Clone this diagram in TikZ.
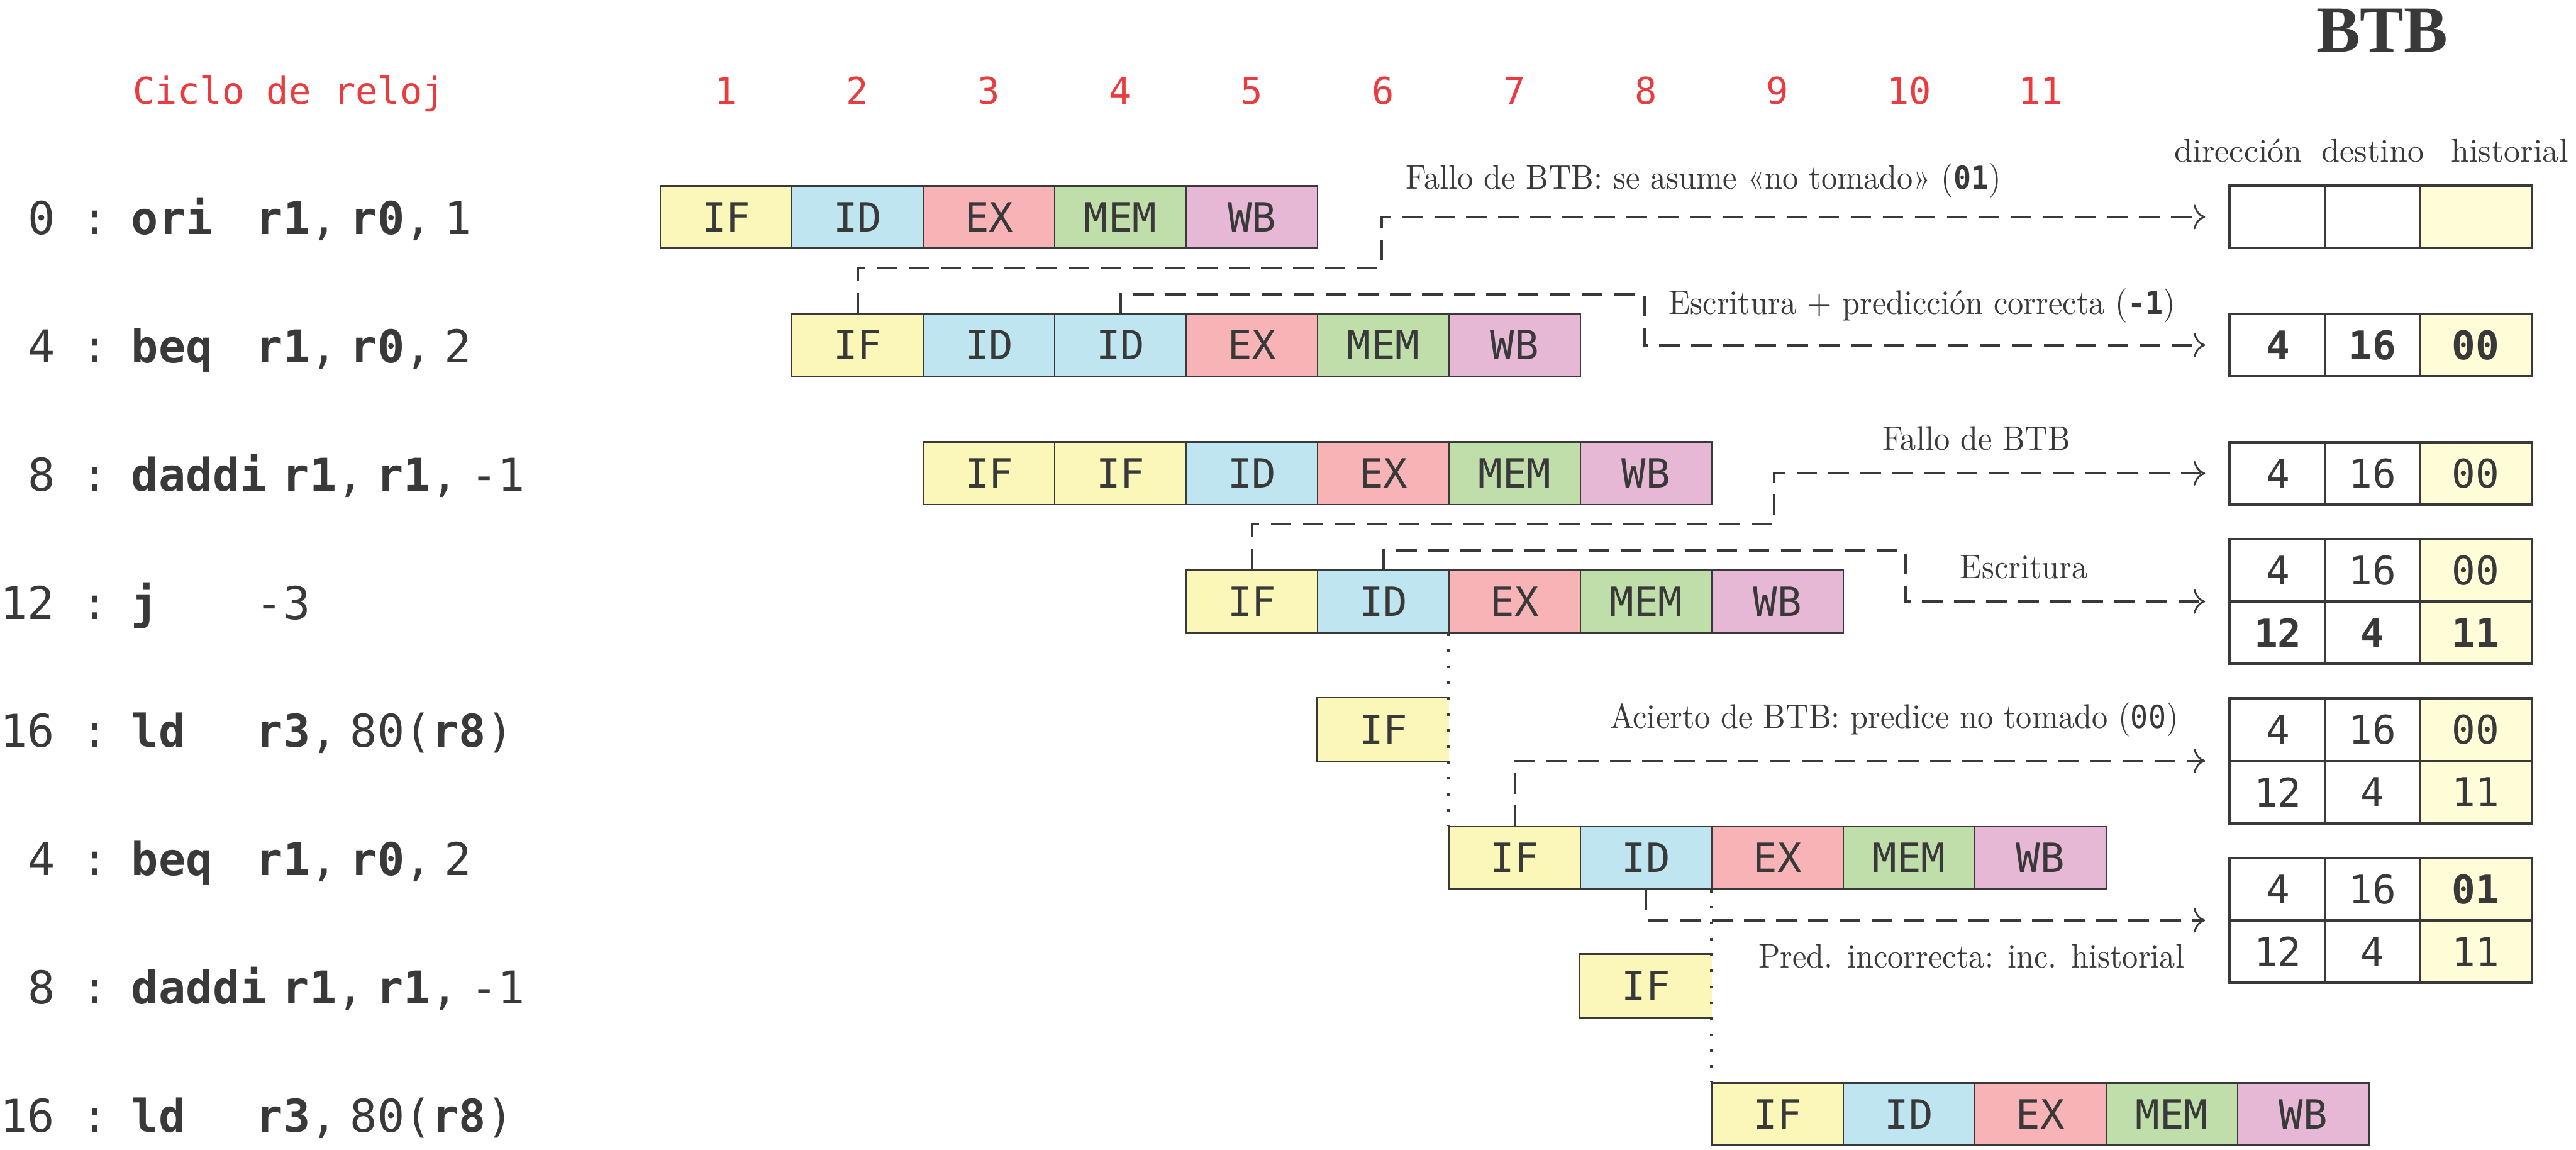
\documentclass[tikz,border=0pt]{standalone}
\usepackage{graphicx}
\usepackage{fontspec}
\setmonofont{DejaVu Sans Mono}
\newfontfamily\btbfont{Liberation Serif}
\usetikzlibrary{arrows.meta}
\definecolor{ink}{HTML}{393939}
\definecolor{redc}{HTML}{EB3B3F}
\definecolor{cIF}{HTML}{FAF7B9}
\definecolor{cID}{HTML}{BFE6F0}
\definecolor{cEX}{HTML}{F7B3B5}
\definecolor{cMEM}{HTML}{BFDEAA}
\definecolor{cWB}{HTML}{E6B8D5}
\definecolor{cHist}{HTML}{FFFCD8}
\newcommand\stg[5]{\node[stgbox,fill=#5] (#1) at (#2,#3) {#4};}
\newcommand\opsp{\hspace{7.7pt}}
\newcommand\rmbig[1]{\scalebox{2}{\fontsize{10}{12}\selectfont #1}}
\newcommand\rmlbl[1]{\scalebox{1.93}[2.08]{\fontsize{10}{12}\selectfont #1}}
\newcommand\monosm[1]{{\fontsize{9.25}{10}\selectfont\ttfamily #1}}
\newcommand\asmline[5]{% y-center, number, mnemonic, operand x, operands
  \node[asmnum] at (33.6,#1+10.7) {#2};
  \node[asmcol] at (57.8,#1+10.7) {:};
  \node[asm] at (79.8,#1+10.7) {\textbf{#3}};
  \node[asm] at (#4,#1+10.7) {#5};}
\newcommand\btbtab[3]{% name, top y, rows
  \fill[cHist] (1473,#2) rectangle (1541,{#2+38*#3});
  \node[tabbox,minimum height={38pt*#3}] (#1) at (1449,{#2+19*#3}) {};
  \draw[ink,line width=1.3pt] (1415.5,#2) -- (1415.5,{#2+38*#3}) (1473,#2) -- (1473,{#2+38*#3});}
\begin{document}
\begin{tikzpicture}[x=1pt,y=-1pt,
 every node/.style={text=ink},
 stgbox/.style={draw=ink,line width=1pt,inner sep=0pt,minimum width=80pt,minimum height=38pt,font=\fontsize{24.5}{26}\selectfont\ttfamily},
 asm/.style={inner sep=0pt,anchor=base west,font=\fontsize{27.5}{30}\selectfont\ttfamily},
 asmnum/.style={inner sep=0pt,anchor=base east,font=\fontsize{27.5}{30}\selectfont\ttfamily},
 asmcol/.style={inner sep=0pt,anchor=base,font=\fontsize{27.5}{30}\selectfont\ttfamily},
 cyc/.style={inner sep=0pt,anchor=base,text=redc,font=\fontsize{22.5}{24}\selectfont\ttfamily},
 lbl/.style={inner sep=0pt,anchor=base},
 tabbox/.style={draw=ink,line width=1.5pt,inner sep=0pt,minimum width=184pt},
 val/.style={inner sep=0pt,font=\fontsize{24}{26}\selectfont\ttfamily},
 conn/.style={draw=ink,line width=1.5pt,dash pattern=on 12.5pt off 7pt,
   -{Computer Modern Rightarrow[length=7pt,width=15pt,line width=1.1pt]},shorten >=14pt},
 dotl/.style={draw=ink,line width=1.4pt,dash pattern=on 1.6pt off 8.1pt},
 boxl/.style={draw=ink,line width=1pt}
]
\fill[white] (0,0) rectangle (1568,699.5);
\useasboundingbox (0,0) rectangle (1568,699.5);

% header
\node[inner sep=0pt,anchor=base west,text=redc,font=\fontsize{22.5}{24}\selectfont\ttfamily] (ciclo) at (80.8,63.4) {Ciclo de reloj};
\foreach \k in {1,...,11} \node[cyc] (cyc\k) at ({442+80*(\k-1)},63.4) {\k};
\node[inner sep=0pt,anchor=base,font={\fontsize{40}{44}\selectfont\btbfont\bfseries}] (btb) at (1450,31.4) {BTB};
\node[lbl] (hdir) at (1362.5,98.7) {\rmbig{dirección}};
\node[lbl] (hdes) at (1444.4,98.7) {\rmbig{destino}};
\node[lbl] (hhis) at (1527.6,98.7) {\rmbig{historial}};

% instructions
\asmline{132}{0}{ori}{155.6}{\textbf{r1},\opsp\textbf{r0},\opsp 1}
\asmline{210}{4}{beq}{155.6}{\textbf{r1},\opsp\textbf{r0},\opsp 2}
\asmline{288}{8}{daddi}{171.6}{\textbf{r1},\opsp\textbf{r1},\opsp -1}
\asmline{366}{12}{j}{155.6}{-3}
\asmline{444}{16}{ld}{155.6}{\textbf{r3},\opsp 80(\textbf{r8})}
\asmline{522}{4}{beq}{155.6}{\textbf{r1},\opsp\textbf{r0},\opsp 2}
\asmline{600}{8}{daddi}{171.6}{\textbf{r1},\opsp\textbf{r1},\opsp -1}
\asmline{678}{16}{ld}{155.6}{\textbf{r3},\opsp 80(\textbf{r8})}

% pipeline stages
\stg{r0s1}{442}{132}{IF}{cIF}\stg{r0s2}{522}{132}{ID}{cID}\stg{r0s3}{602}{132}{EX}{cEX}\stg{r0s4}{682}{132}{MEM}{cMEM}\stg{r0s5}{762}{132}{WB}{cWB}
\stg{r1s1}{522}{210}{IF}{cIF}\stg{r1s2}{602}{210}{ID}{cID}\stg{r1s3}{682}{210}{ID}{cID}\stg{r1s4}{762}{210}{EX}{cEX}\stg{r1s5}{842}{210}{MEM}{cMEM}\stg{r1s6}{922}{210}{WB}{cWB}
\stg{r2s1}{602}{288}{IF}{cIF}\stg{r2s2}{682}{288}{IF}{cIF}\stg{r2s3}{762}{288}{ID}{cID}\stg{r2s4}{842}{288}{EX}{cEX}\stg{r2s5}{922}{288}{MEM}{cMEM}\stg{r2s6}{1002}{288}{WB}{cWB}
\stg{r3s1}{762}{366}{IF}{cIF}\stg{r3s2}{842}{366}{ID}{cID}\stg{r3s3}{922}{366}{EX}{cEX}\stg{r3s4}{1002}{366}{MEM}{cMEM}\stg{r3s5}{1082}{366}{WB}{cWB}
\node[stgbox,draw=none,fill=cIF] (r4s1) at (842,444) {IF};
\draw[boxl] (r4s1.north east) -- (r4s1.north west) -- (r4s1.south west) -- (r4s1.south east);
\stg{r5s1}{922}{522}{IF}{cIF}\stg{r5s2}{1002}{522}{ID}{cID}\stg{r5s3}{1082}{522}{EX}{cEX}\stg{r5s4}{1162}{522}{MEM}{cMEM}\stg{r5s5}{1242}{522}{WB}{cWB}
\node[stgbox,draw=none,fill=cIF] (r6s1) at (1002,600) {IF};
\draw[boxl] (r6s1.north east) -- (r6s1.north west) -- (r6s1.south west) -- (r6s1.south east);
\stg{r7s1}{1082}{678}{IF}{cIF}\stg{r7s2}{1162}{678}{ID}{cID}\stg{r7s3}{1242}{678}{EX}{cEX}\stg{r7s4}{1322}{678}{MEM}{cMEM}\stg{r7s5}{1402}{678}{WB}{cWB}

% dotted lines
\draw[dotl] (r3s3.south west) -- (r5s1.north west);
\draw[dotl] (r5s3.south west) -- (r7s1.north west);

% BTB tables
\btbtab{t0}{113}{1}
\btbtab{t1}{191}{1}
\btbtab{t2}{269}{1}
\btbtab{t3}{328}{2}
\btbtab{t4}{425}{2}
\btbtab{t5}{522}{2}
\draw[ink,line width=1.5pt] (t3.west) -- (t3.east) (t4.west) -- (t4.east) (t5.west) -- (t5.east);

\node[val] at (1386.5,210) {\textbf{4}}; \node[val] at (1444,210) {\textbf{16}}; \node[val] at (1507,210) {\textbf{00}};
\node[val] at (1386.5,288) {4}; \node[val] at (1444,288) {16}; \node[val] at (1507,288) {00};
\node[val] at (1386.5,347) {4}; \node[val] at (1444,347) {16}; \node[val] at (1507,347) {00};
\node[val] at (1386.5,385) {\textbf{12}}; \node[val] at (1444,385) {\textbf{4}}; \node[val] at (1507,385) {\textbf{11}};
\node[val] at (1386.5,444) {4}; \node[val] at (1444,444) {16}; \node[val] at (1507,444) {00};
\node[val] at (1386.5,482) {12}; \node[val] at (1444,482) {4}; \node[val] at (1507,482) {11};
\node[val] at (1386.5,541) {4}; \node[val] at (1444,541) {16}; \node[val] at (1507,541) {\textbf{01}};
\node[val] at (1386.5,579) {12}; \node[val] at (1444,579) {4}; \node[val] at (1507,579) {11};

% connectors
\coordinate (ka) at (841,163);
\coordinate (kb) at (1001,179);
\coordinate (kc) at (1080,319);
\coordinate (kd) at (1160,335);
\draw[conn] (r1s1.north) |- (ka) |- (t0.west);
\draw[conn] (r1s3.north) |- (kb) |- (t1.west);
\draw[conn] (r3s1.north) |- (kc) |- (t2.west);
\draw[conn] (r3s2.north) |- (kd) |- (t3.west);
\draw[conn] (r5s1.north) |- (t4.west);
\draw[conn] (r5s2.south) |- (t5.west);

% labels
\node[lbl] (la) at (1037,115) {\rmlbl{Fallo de BTB: se asume «no tomado» (\monosm{\bfseries 01})}};
\node[lbl] (lb) at (1170,191.2) {\rmlbl{Escritura + predicción correcta (\monosm{\bfseries -1})}};
\node[lbl] (lc) at (1203,274) {\rmlbl{Fallo de BTB}};
\node[lbl] (ld) at (1232,352) {\rmlbl{Escritura}};
\node[lbl] (le) at (1153,443) {\rmlbl{Acierto de BTB: predice no tomado (\monosm{00})}};
\node[lbl] (lf) at (1200,589) {\rmlbl{Pred. incorrecta: inc. historial}};
\end{tikzpicture}
\end{document}
